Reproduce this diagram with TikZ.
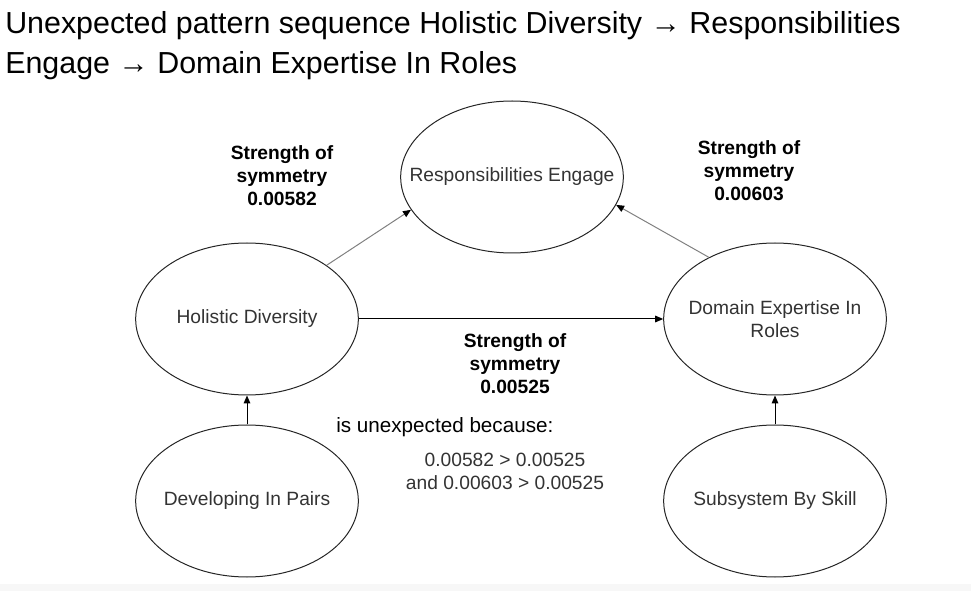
\documentclass[tikz,border=0pt]{standalone}
\usepackage{fontspec}
\setmainfont{Liberation Sans}
\usetikzlibrary{shapes.geometric,arrows.meta}

\begin{document}
\begin{tikzpicture}[x=0.75pt,y=0.75pt,yscale=-1,xscale=1,
    stateshape/.style={draw=black!85,ellipse,line width=0.75pt,minimum width=167pt,minimum height=114pt,inner xsep=-40pt,inner ysep=0pt,align=center,text=black!80,font=\fontsize{14.4}{17.3}\selectfont},
    strengthtext/.style={align=center,inner sep=0.75pt,font=\fontsize{14.4}{17.3}\selectfont\bfseries},
    plaintext/.style={inner sep=0.75pt,font=\fontsize{14.4}{17.3}\selectfont},
    grayarrow/.style={draw=black!50,line width=0.75pt,-{Triangle[length=6pt,width=5pt,color=black]}},
    blackarrow/.style={draw=black,line width=0.75pt,-{Triangle[length=6pt,width=5pt]}}]
                \useasboundingbox (0,0) rectangle (971,591);
                \fill [black!3] (0,584) rectangle (971,591);

                % Text Node
                \node [anchor=north west,inner sep=0pt,align=left,font=\fontsize{22.8}{30}\selectfont] (title) at (5,11) {Unexpected pattern sequence Holistic Diversity → Responsibilities\\Engage → Domain Expertise In Roles};

                %Shape: Ellipse
                \node [stateshape] (re) at (512,177) {Responsibilities Engage};
                %Shape: Ellipse
                \node [stateshape] (hd) at (247,319) {Holistic Diversity};
                %Shape: Ellipse
                \node [stateshape] (de) at (775,319) {Domain Expertise In\\Roles};
                %Shape: Ellipse
                \node [stateshape] (dp) at (247,501) {Developing In Pairs};
                %Shape: Ellipse
                \node [stateshape] (sb) at (775,501) {Subsystem By Skill};

                %Straight Lines
                \draw [grayarrow] (hd.34) -- (re.198);
                \draw [grayarrow] (de.137) -- (re.345);
                \draw [blackarrow] (hd.east) -- (de.west);
                \draw [blackarrow] (dp.north) -- (hd.south);
                \draw [blackarrow] (sb.north) -- (de.south);

                % Text Node
                \node [strengthtext] (s1) at (282,176) {Strength of\\symmetry\\0.00582};
                % Text Node
                \node [strengthtext] (s2) at (749,171) {Strength of\\symmetry\\0.00603};
                % Text Node
                \node [strengthtext] (s3) at (515,364) {Strength of\\symmetry\\0.00525};
                % Text Node
                \node [plaintext,anchor=west,font=\fontsize{15.5}{18}\selectfont] (why) at (335,427) {is unexpected because:};
                % Text Node
                \node [plaintext,align=center,text=black!80] (cmp) at (505,471) {0.00582 > 0.00525\\and 0.00603 > 0.00525};
\end{tikzpicture}
\end{document}
